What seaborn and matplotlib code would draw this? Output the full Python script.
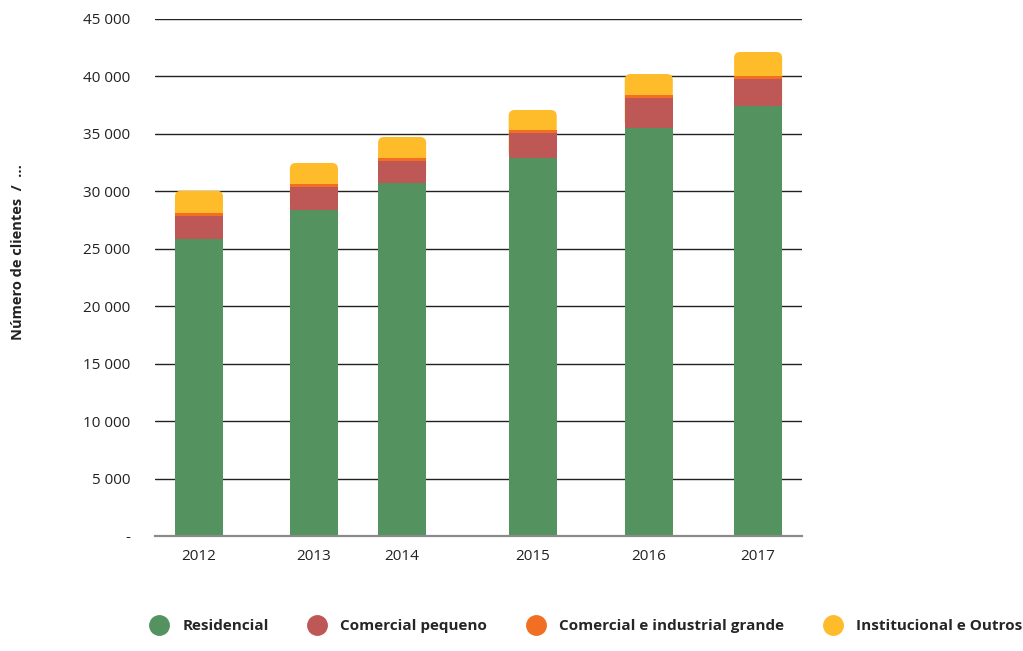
import matplotlib
matplotlib.use("Agg")
import matplotlib.pyplot as plt
from matplotlib.lines import Line2D
from matplotlib.patches import FancyBboxPatch
from matplotlib.ticker import FuncFormatter, MultipleLocator
import seaborn as sns
import pandas as pd
import numpy as np

anos = ["2012", "2013", "2014", "2015", "2016", "2017"]
posicao_x = [2012.0, 2013.03, 2013.82, 2014.99, 2016.03, 2017.01]
residencial = [25850, 28400, 30720, 32930, 35540, 37460]
comercial_pequeno = [2030, 2000, 1920, 2150, 2610, 2320]
comercial_industrial_grande = [230, 240, 260, 260, 260, 280]
institucional_outros = [1940, 1830, 1830, 1740, 1800, 2070]

series_nomes = ["Residencial", "Comercial pequeno", "Comercial e industrial grande", "Institucional e Outros"]
cores = ["#54935F", "#BE5856", "#F26E22", "#FEBB2A"]

sns.set_theme(style="white")
plt.rcParams["font.family"] = ["Open Sans", "DejaVu Sans"]

fig = plt.figure(figsize=(10.23, 6.51), dpi=100)
ax = fig.add_axes([155 / 1023, 1 - 536 / 651, (802 - 155) / 1023, (536 - 19) / 651])

valores = [residencial, comercial_pequeno, comercial_industrial_grande, institucional_outros]
cum = np.cumsum(np.array(valores), axis=0)

xmin, xmax = 2011.606, 2017.403
ymin, ymax = 0, 45000
ax.set_xlim(xmin, xmax)
ax.set_ylim(ymin, ymax)

for i in reversed(range(4)):
    df = pd.DataFrame({"x": posicao_x, "y": cum[i]})
    sns.barplot(data=df, x="x", y="y", native_scale=True, color=cores[i],
                saturation=1, width=0.545, ax=ax, zorder=3, edgecolor="none", linewidth=0)
    if i == 3:
        # round the top corners of the topmost segment; start it at the green top
        px_x = (xmax - xmin) / 647.0
        px_y = (ymax - ymin) / 517.0
        for k, p in enumerate(list(ax.patches)):
            x0, w = p.get_x(), p.get_width()
            y0 = residencial[k]
            h = p.get_y() + p.get_height() - y0
            p.remove()
            fb = FancyBboxPatch((x0, y0), w, h,
                                boxstyle=f"round,pad=0,rounding_size={6 * px_x}",
                                mutation_aspect=px_y / px_x,
                                facecolor=cores[3], edgecolor="none", zorder=3)
            ax.add_patch(fb)

ax.set_xlim(xmin, xmax)
ax.set_ylim(ymin, ymax)
ax.yaxis.set_major_locator(MultipleLocator(5000))
ax.yaxis.set_major_formatter(FuncFormatter(lambda v, p: "-" if v == 0 else f"{int(v):,}".replace(",", " ")))
ax.set_xticks(posicao_x)
ax.set_xticklabels(anos)
ax.grid(axis="y", color="#222222", linewidth=1.0, zorder=0)
ax.grid(axis="x", visible=False)
for s in ["top", "right", "left"]:
    ax.spines[s].set_visible(False)
ax.spines["bottom"].set_color("#8a8a8a")
ax.spines["bottom"].set_linewidth(1.6)
ax.spines["bottom"].set_zorder(4)
ax.tick_params(axis="both", length=0, labelsize=11, colors="#222222")
ax.tick_params(axis="y", pad=18)
ax.tick_params(axis="x", pad=9)
ax.set_xlabel("")
ax.set_ylabel("")
fig.text(18 / 1023, 1 - 252 / 651, "Número de clientes  /  ...", rotation=90, ha="center", va="center",
         fontsize=10.5, fontweight="bold", color="#222222")

handles = [Line2D([0], [0], marker="o", linestyle="none", markersize=14, markerfacecolor=c,
                  markeredgecolor=c) for c in cores]
leg = fig.legend(handles, series_nomes, loc="center", bbox_to_anchor=(583 / 1023, 1 - 626 / 651),
                 ncol=4, frameon=False, handletextpad=0.5, columnspacing=2.2,
                 prop={"weight": "bold", "size": 11})

fig.savefig("out.png", dpi=100)
